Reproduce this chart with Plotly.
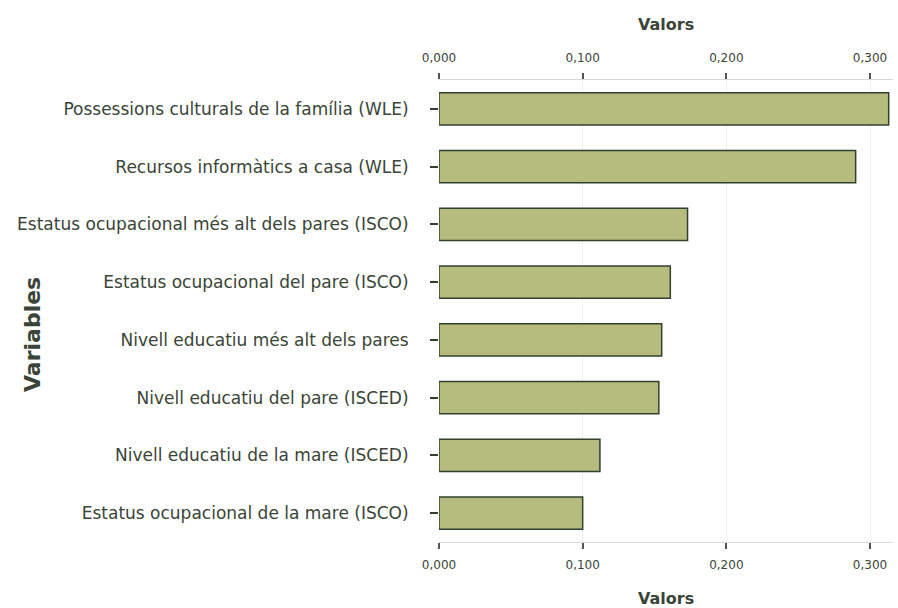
import plotly.graph_objects as go

categories = [
    "Possessions culturals de la família (WLE)",
    "Recursos informàtics a casa (WLE)",
    "Estatus ocupacional més alt dels pares (ISCO)",
    "Estatus ocupacional del pare (ISCO)",
    "Nivell educatiu més alt dels pares",
    "Nivell educatiu del pare (ISCED)",
    "Nivell educatiu de la mare (ISCED)",
    "Estatus ocupacional de la mare (ISCO)",
]
values = [0.313, 0.290, 0.173, 0.161, 0.155, 0.153, 0.112, 0.100]
tick_vals = [0.0, 0.1, 0.2, 0.3]
tick_text = ["0,000", "0,100", "0,200", "0,300"]

txt = "#3a4438"
font = "DejaVu Sans, sans-serif"

L, R, T, B = 439, 5, 80, 66
W, H = 898, 608
pw, ph = W - L - R, H - T - B

fig = go.Figure()
fig.add_trace(go.Bar(
    x=values, y=categories, orientation="h",
    marker=dict(color="#b5bc7e", line=dict(color="#33402f", width=1.5)),
    width=0.56, xaxis="x", yaxis="y", hoverinfo="skip",
))
fig.add_trace(go.Bar(
    x=values, y=categories, orientation="h", opacity=0,
    width=0.56, xaxis="x2", yaxis="y", hoverinfo="skip", showlegend=False,
))

axis_common = dict(
    range=[0, 0.316], tickvals=tick_vals, ticktext=tick_text,
    tickfont=dict(size=12, color=txt, family=font),
    ticks="outside", ticklen=6, tickwidth=2, tickcolor="#555555",
    showline=True, linecolor="#d8d8d8", linewidth=1,
    showgrid=True, gridcolor="#efefef", zeroline=False,
    automargin=False, ticklabelstandoff=6,
)
fig.update_layout(
    width=W, height=H,
    margin=dict(l=L, r=R, t=T, b=B),
    paper_bgcolor="white", plot_bgcolor="white",
    showlegend=False, barmode="overlay",
    xaxis=dict(side="bottom", **axis_common),
    xaxis2=dict(side="top", overlaying="x", **axis_common),
    yaxis=dict(
        categoryorder="array", categoryarray=categories[::-1],
        tickfont=dict(size=17, color=txt, family=font),
        ticks="outside", ticklen=8, tickwidth=2, tickcolor="#33402f",
        showline=False, showgrid=False, ticklabelstandoff=18,
        automargin=False,
    ),
    font=dict(family=font, color=txt),
)
fig.add_annotation(
    text="<b>Valors</b>", xref="paper", yref="paper",
    x=0.5, y=(H - B - 25) / ph, showarrow=False,
    font=dict(size=16, color=txt, family=font), xanchor="center", yanchor="middle",
)
fig.add_annotation(
    text="<b>Valors</b>", xref="paper", yref="paper",
    x=0.5, y=(H - B - 598) / ph, showarrow=False,
    font=dict(size=16, color=txt, family=font), xanchor="center", yanchor="middle",
)
fig.add_annotation(
    text="<b>Variables</b>", xref="paper", yref="paper",
    x=(32 - L) / pw, y=(H - B - 335) / ph, textangle=-90, showarrow=False,
    font=dict(size=22, color=txt, family=font), xanchor="center", yanchor="middle",
)
fig.write_html(
    "out.html",
    config={"displayModeBar": False},
    post_script="document.body.style.margin='0';document.body.style.overflow='hidden';",
)
